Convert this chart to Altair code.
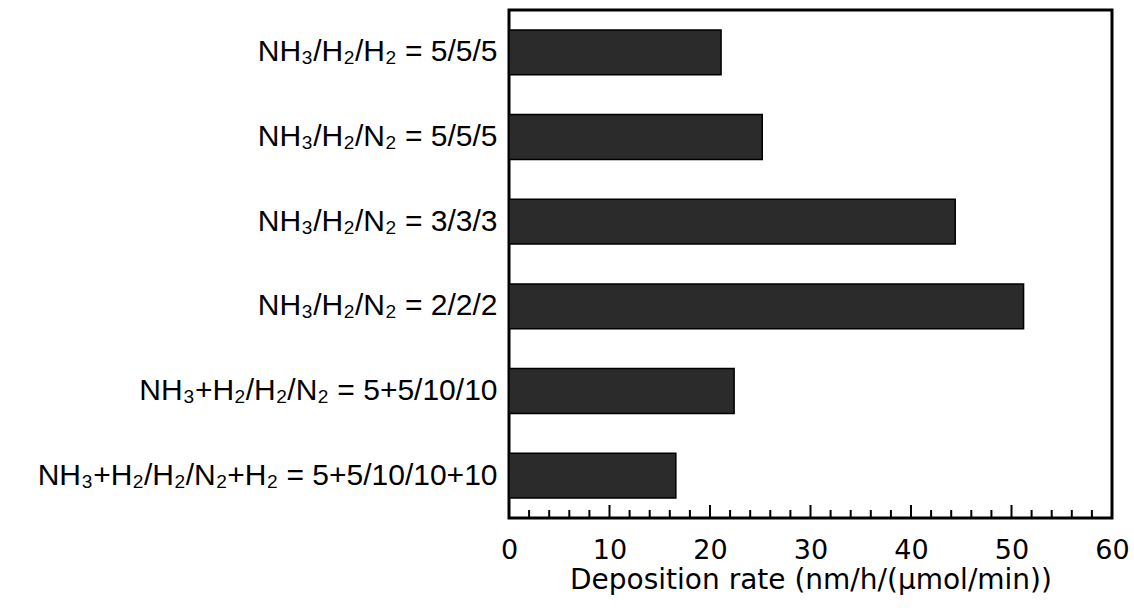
import altair as alt
import pandas as pd

conditions = [
    "NH₃/H₂/H₂ = 5/5/5",
    "NH₃/H₂/N₂ = 5/5/5",
    "NH₃/H₂/N₂ = 3/3/3",
    "NH₃/H₂/N₂ = 2/2/2",
    "NH₃+H₂/H₂/N₂ = 5+5/10/10",
    "NH₃+H₂/H₂/N₂+H₂ = 5+5/10/10+10",
]
rates = [21.1, 25.2, 44.4, 51.2, 22.4, 16.6]
major_ticks = [0, 10, 20, 30, 40, 50, 60]
minor_ticks = [2, 4, 6, 8, 12, 14, 16, 18, 22, 24, 26, 28, 32, 34, 36, 38,
               42, 44, 46, 48, 52, 54, 56, 58]

W, H = 603, 508

df = pd.DataFrame({"condition": conditions, "rate": rates})
xscale = alt.Scale(domain=[0, 60], nice=False)

bars = alt.Chart(df).mark_bar(
    fill="#2b2b2b", stroke="#000000", strokeWidth=1.5
).encode(
    x=alt.X("rate:Q", scale=xscale,
            axis=alt.Axis(values=major_ticks, ticks=False, domain=False, grid=False,
                          labelFlush=False,
                          labelFont="DejaVu Sans", labelFontSize=27, labelColor="#000",
                          labelPadding=19, title="Deposition rate (nm/h/(µmol/min))",
                          titleFont="DejaVu Sans", titleFontSize=28, titleFontWeight="normal",
                          titleColor="#000", titlePadding=3)),
    y=alt.Y("condition:N", sort=conditions,
            scale=alt.Scale(paddingInner=0.47, paddingOuter=0.235),
            axis=alt.Axis(ticks=False, domain=False, grid=False, title=None,
                          labelFont="Liberation Sans", labelFontSize=30, labelColor="#000",
                          labelPadding=12, labelLimit=600)),
)

major = alt.Chart(pd.DataFrame({"t": major_ticks})).mark_rule(
    color="#000", strokeWidth=2
).encode(x=alt.X("t:Q", scale=xscale), y=alt.value(H), y2=alt.value(H - 13))

minor = alt.Chart(pd.DataFrame({"t": minor_ticks})).mark_rule(
    color="#000", strokeWidth=2
).encode(x=alt.X("t:Q", scale=xscale), y=alt.value(H), y2=alt.value(H - 8))

chart = alt.layer(bars, major, minor).properties(
    width=W, height=H,
    autosize=alt.AutoSizeParams(type="none"),
    padding={"left": 509, "top": 10, "right": 22, "bottom": 94},
    background="#ffffff",
).configure_view(stroke="#000000", strokeWidth=3)

chart.save("out.html", embed_options={"renderer": "svg", "actions": False})
